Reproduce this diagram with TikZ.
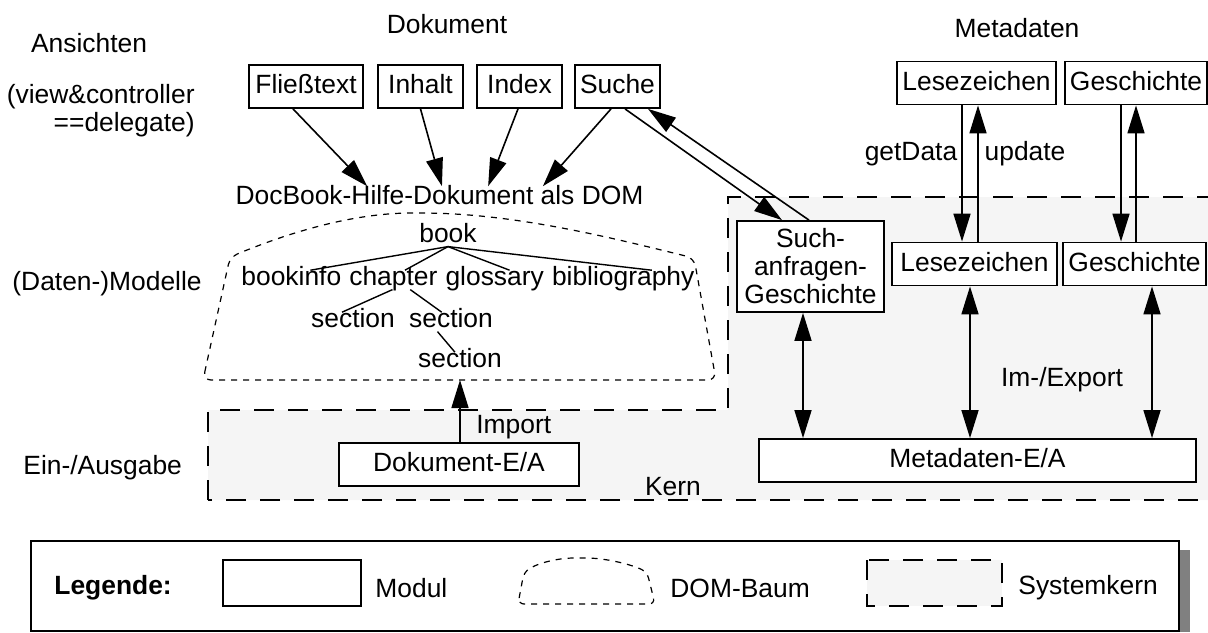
\documentclass[tikz,border=0pt]{standalone}
\usepackage{fontspec}
\setmainfont{Liberation Sans}
\usetikzlibrary{arrows.meta,calc}
\definecolor{kernfill}{HTML}{F5F5F5}
\definecolor{shadowgray}{HTML}{808080}

\begin{document}
\begin{tikzpicture}[x=0.5pt,y=-0.5pt,
  font=\fontsize{13.2}{14}\selectfont,
  lbl/.style={inner sep=0pt},
  boxline/.style={draw, line width=0.9pt, fill=white, inner xsep=2.5pt, inner ysep=0pt, minimum height=21.5pt},
  modbox/.style={boxline, text height=0.72em, text depth=0pt},
  word/.style={inner sep=0pt, text height=0.72em, text depth=0.21em},
  arr/.style={line width=0.8pt, -{Triangle[length=14pt,width=8.5pt]}},
  dbl/.style={line width=0.8pt, {Triangle[length=14pt,width=8.5pt]}-{Triangle[length=14pt,width=8.5pt]}},
  treeline/.style={line width=0.7pt},
  kernarea/.style={fill=kernfill, draw, line width=0.9pt, dash pattern=on 10pt off 7pt},
  domarea/.style={draw, line width=0.6pt, dash pattern=on 3pt off 3pt, rounded corners=4pt},
]
\useasboundingbox (0,0) rectangle (1208,632);

% system core (shaded, dashed outline)
\path[kernarea] (208,500) -- (208,410) -- (728,410) -- (728,197) -- (1216,197) -- (1216,500) -- cycle;

% DOM tree outline
\draw[domarea] (203,380) -- (230,257) .. controls (300,228) and (360,213) .. (420,213)
  .. controls (520,214) and (620,240) .. (694,258) -- (716,380) -- cycle;

% layer and column titles
\node[lbl] (ansichten) at (89,43) {Ansichten};
\node[lbl, align=right, anchor=east] (viewctl) at (195,111) {(view\&controller\\==delegate)};
\node[lbl] (dokument) at (447,24) {Dokument};
\node[lbl] (metadaten) at (1017,28) {Metadaten};
\node[lbl, anchor=west] (modelle) at (12,284) {(Daten-)Modelle};
\node[lbl, anchor=west] (einaus) at (23,468) {Ein-/Ausgabe};

% views
\node[modbox, minimum width=57pt] (fliess) at (306,86.5) {Fließtext};
\node[modbox, minimum width=42.5pt] (inhalt) at (420.5,86.5) {Inhalt};
\node[modbox, minimum width=42.5pt] (index) at (519.5,86.5) {Index};
\node[modbox, minimum width=42.5pt] (suche) at (617.5,86.5) {Suche};
\node[modbox, minimum width=78.5pt] (lzTop) at (976.5,83) {Lesezeichen};
\node[modbox, minimum width=70pt] (gTop) at (1136,83) {Geschichte};

% models
\node[modbox, minimum width=82.5pt] (lzMid) at (974.5,264) {Lesezeichen};
\node[modbox, minimum width=71.5pt] (gMid) at (1134.5,264) {Geschichte};
\node[boxline, align=center, minimum width=73.5pt, minimum height=45.5pt] (such) at (810.5,266.5) {Such-\\anfragen-\\Geschichte};

% input / output
\node[modbox, minimum width=120pt] (dokEA) at (459,464.5) {Dokument-E/A};
\node[modbox, minimum width=218.5pt] (metaEA) at (977.5,460.5) {Metadaten-E/A};

% document tree
\node[lbl, inner ysep=1.5pt, text height=0.72em, text depth=0.21em, anchor=base] (docbook) at (439.5,204) {DocBook-Hilfe-Dokument als DOM};
\node[word, anchor=base] (book) at (448,242) {book};
\node[word, anchor=base west] (bookinfo) at (241,285) {bookinfo};
\node[word, anchor=base west] (chapter) at ([xshift=3.67pt]bookinfo.base east) {chapter};
\node[word, anchor=base west] (glossary) at ([xshift=3.67pt]chapter.base east) {glossary};
\node[word, anchor=base west] (biblio) at ([xshift=3.67pt]glossary.base east) {bibliography};
\node[word, anchor=base] (sec1) at (353,327) {section};
\node[word, anchor=base] (sec2) at (451,327) {section};
\node[word, anchor=base] (sec3) at (460,367) {section};

\draw[treeline] (book.south) -- ($(bookinfo.north west)!0.69!(bookinfo.north east)$);
\draw[treeline] (book.south) -- ($(chapter.north west)!0.63!(chapter.north east)$);
\draw[treeline] (book.south) -- ($(glossary.north west)!0.65!(glossary.north east)$);
\draw[treeline] (book.south) -- ($(biblio.north west)!0.70!(biblio.north east)$);
\draw[treeline] ($(chapter.south west)!0.49!(chapter.south east)$) -- ($(sec1.north west)!0.37!(sec1.north east)$);
\draw[treeline] ($(chapter.south west)!0.69!(chapter.south east)$) -- ($(sec2.north west)!0.39!(sec2.north east)$);
\draw[treeline] ($(sec2.south west)!0.34!(sec2.south east)$) -- ($(sec3.north west)!0.44!(sec3.north east)$);

% views -> document
\draw[arr] ([xshift=-6.5pt]fliess.south) -- ($(docbook.north west)!0.323!(docbook.north east)$);
\draw[arr] (inhalt.south) -- ($(docbook.north west)!0.506!(docbook.north east)$);
\draw[arr] ([xshift=-0.75pt]index.south) -- ($(docbook.north west)!0.619!(docbook.north east)$);
\draw[arr] ([xshift=-3.25pt]suche.south) -- ($(docbook.north west)!0.753!(docbook.north east)$);

% search view <-> search history
\draw[arr] ([xshift=3.75pt]suche.south) -- ([xshift=-14.25pt]such.north);
\draw[arr] ([xshift=-0.75pt]such.north) -- ([xshift=15.25pt]suche.south);

% bookmark and history views <-> models
\path ([xshift=-7.25pt]lzTop.south) coordinate (lzDn)
      ([xshift=0.75pt]lzTop.south) coordinate (lzUp)
      ([xshift=-7.5pt]gTop.south) coordinate (gDn)
      (gTop.south) coordinate (gUp);
\draw[arr] (lzDn) -- (lzDn |- lzMid.north);
\draw[arr] (lzUp |- lzMid.north) -- (lzUp);
\draw[arr] (gDn) -- (gDn |- gMid.north);
\draw[arr] (gUp |- gMid.north) -- (gUp);
\node[lbl] (getdata) at (911,154) {getData};
\node[lbl] (update) at (1025,154) {update};

% models <-> metadata I/O
\path ([xshift=-3.75pt]such.south) coordinate (sqIO)
      ([xshift=-2.25pt]lzMid.south) coordinate (lzIO)
      ([xshift=8.75pt]gMid.south) coordinate (gIO);
\draw[dbl] (sqIO) -- (sqIO |- metaEA.north);
\draw[dbl] (lzIO) -- (lzIO |- metaEA.north);
\draw[dbl] (gIO) -- (gIO |- metaEA.north);
\node[lbl] (imexport) at (1062,380) {Im-/Export};

% document import
\coordinate (domfoot) at (460,380);
\draw[arr] (dokEA.north -| domfoot) -- (domfoot);
\node[lbl, anchor=west] (importlbl) at (476,427) {Import};
\node[lbl] (kern) at (673,487) {Kern};

% legend
\fill[shadowgray] (1179,550) rectangle (1190,632);
\draw[line width=0.6pt, fill=white] (31,541) rectangle (1179,631);
\node[lbl, anchor=west, font=\fontsize{13.2}{14}\selectfont\bfseries] (legende) at (54,588) {Legende:};
\draw[line width=0.9pt] (223,560) rectangle (361,606);
\node[lbl, anchor=west] (modul) at (375,588) {Modul};
\draw[domarea, rounded corners=3pt] (518,604) -- (524,572) .. controls (540,562) and (560,558) .. (580,558)
  .. controls (605,558) and (630,564) .. (647,572) -- (655,604) -- cycle;
\node[lbl, anchor=west] (dombaum) at (670,588) {DOM-Baum};
\path[kernarea] (867,560) rectangle (1002,606);
\node[lbl, anchor=west] (systemkern) at (1018,588) {Systemkern};
\end{tikzpicture}
\end{document}
